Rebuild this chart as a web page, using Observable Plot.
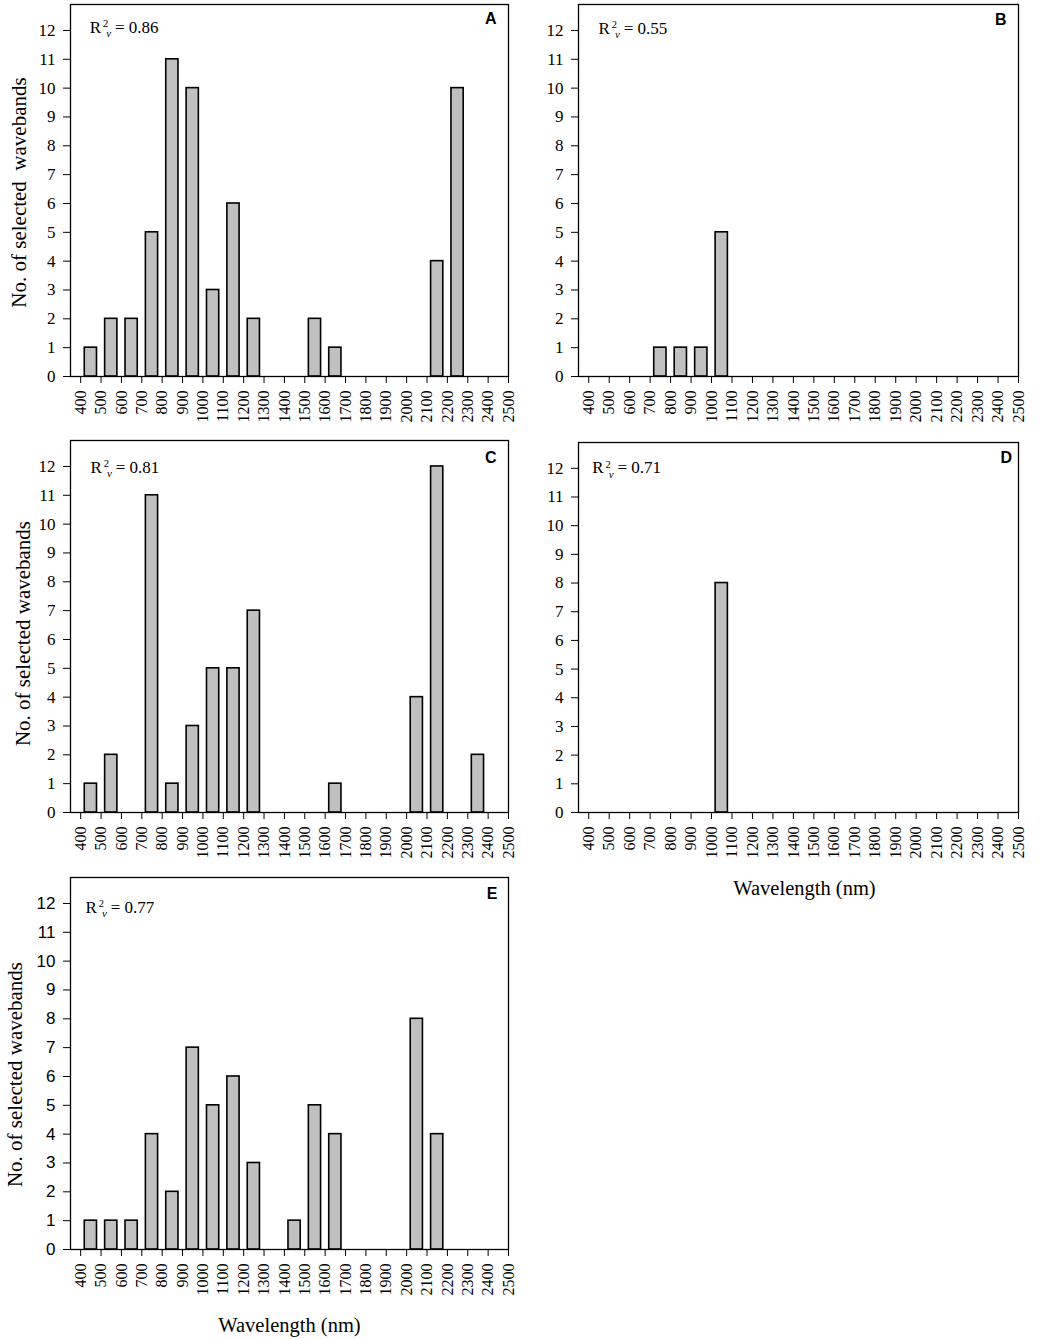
<!DOCTYPE html>
<html>
<head>
<meta charset="utf-8">
<script src="https://cdn.jsdelivr.net/npm/d3@7"></script>
<script src="https://cdn.jsdelivr.net/npm/@observablehq/plot@0.6"></script>
<style>
  body { margin: 0; background: #fff; }
  #wrap { position: relative; width: 1058px; height: 1339px; background: #fff; }
  #wrap svg { position: absolute; }
</style>
</head>
<body>
<div id="wrap"></div>
<script>
// ---- data ----
const binStarts = [400,500,600,700,800,900,1000,1100,1200,1300,1400,1500,1600,1700,1800,1900,2000,2100,2200,2300,2400];
const xTickValues = [400,500,600,700,800,900,1000,1100,1200,1300,1400,1500,1600,1700,1800,1900,2000,2100,2200,2300,2400,2500];
const yTickValues = [0,1,2,3,4,5,6,7,8,9,10,11,12];
const countsA = [1,2,2,5,11,10,3,6,2,0,0,2,1,0,0,0,0,4,10,0,0];
const countsB = [0,0,0,1,1,1,5,0,0,0,0,0,0,0,0,0,0,0,0,0,0];
const countsC = [1,2,0,11,1,3,5,5,7,0,0,0,1,0,0,0,4,12,0,2,0];
const countsD = [0,0,0,0,0,0,8,0,0,0,0,0,0,0,0,0,0,0,0,0,0];
const countsE = [1,1,1,4,2,7,5,6,3,0,1,5,4,0,0,0,8,4,0,0,0];
const panelLetters = ["A","B","C","D","E"];
const r2Values = ["0.86","0.55","0.81","0.71","0.77"];
const yTitleA = "No. of selected\u00a0 wavebands";
const yTitle = "No. of selected wavebands";
const xTitle = "Wavelength (nm)";

const SERIF = "Liberation Serif, Times New Roman, serif";
const SANS = "Liberation Sans, Arial, sans-serif";

// ---- layout (positions & styles) ----
const panels = [
  {counts: countsA, left: 0,   top: 0,   width: 530, height: 430, mt: 4,  mb: 54, ml: 70, mr: 22,
   yLabel: yTitleA, yDx: -51, yDy: 2, xLabel: false, yFont: SERIF, r2x: 19.3, r2y: 28.3, lDx: -12, lDy: 19.5},
  {counts: countsB, left: 530, top: 0,   width: 528, height: 430, mt: 4,  mb: 54, ml: 48, mr: 40,
   yLabel: null, xLabel: false, yFont: SERIF, r2x: 20, r2y: 29.3, lDx: -12, lDy: 20},
  {counts: countsC, left: 0,   top: 430, width: 530, height: 440, mt: 10, mb: 58, ml: 70, mr: 22,
   yLabel: yTitle, yDx: -47, yDy: 7, xLabel: false, yFont: SERIF, r2x: 20, r2y: 32, lDx: -12, lDy: 22},
  {counts: countsD, left: 530, top: 430, width: 528, height: 480, mt: 12, mb: 98, ml: 48, mr: 40,
   yLabel: null, xLabel: true, xDx: 6, xDy: 82, yFont: SERIF, r2x: 13.7, r2y: 30.7, lDx: -6.5, lDy: 20.5},
  {counts: countsE, left: 0,   top: 870, width: 530, height: 469, mt: 7,  mb: 90, ml: 70, mr: 22,
   yLabel: yTitle, yDx: -55, yDy: 11, xLabel: true, xDx: 0, xDy: 82, yFont: SANS, r2x: 15, r2y: 35.3, lDx: -11, lDy: 21.3}
];

const wrap = document.getElementById("wrap");

panels.forEach((p, i) => {
  const rows = binStarts.map((s, j) => ({start: s, count: p.counts[j]})).filter(d => d.count > 0);
  const marks = [
    Plot.rect(rows, {
      x1: d => d.start + 20, x2: d => d.start + 80,
      y1: 0, y2: "count",
      fill: "#c0c0c0", stroke: "black", strokeWidth: 1.6
    }),
    Plot.frame({stroke: "black", strokeWidth: 1.3}),
    Plot.axisX({ticks: xTickValues, tickFormat: "d", tickRotate: -90, tickSize: 7, tickPadding: 7,
      fontSize: 16, fontFamily: SERIF, label: null}),
    Plot.axisY({ticks: yTickValues, tickFormat: "d", tickSize: 7, tickPadding: 8,
      fontSize: 17, fontFamily: p.yFont, label: null}),
    // R^2_v annotation
    Plot.text(["R"], {text: d => d, frameAnchor: "top-left", textAnchor: "start", lineAnchor: "bottom",
      dx: p.r2x, dy: p.r2y, fontSize: 17, fontFamily: SERIF, fill: "black"}),
    Plot.text(["2"], {text: d => d, frameAnchor: "top-left", textAnchor: "start", lineAnchor: "bottom",
      dx: p.r2x + 13.2, dy: p.r2y - 5.6, fontSize: 10.5, fontFamily: SERIF, fill: "black"}),
    Plot.text(["v"], {text: d => d, frameAnchor: "top-left", textAnchor: "start", lineAnchor: "bottom",
      dx: p.r2x + 16.5, dy: p.r2y + 4.4, fontSize: 11, fontStyle: "italic", fontFamily: SERIF, fill: "black"}),
    Plot.text(["= " + r2Values[i]], {text: d => d, frameAnchor: "top-left", textAnchor: "start", lineAnchor: "bottom",
      dx: p.r2x + 25.2, dy: p.r2y, fontSize: 17, fontFamily: SERIF, fill: "black"}),
    // panel letter
    Plot.text([panelLetters[i]], {text: d => d, frameAnchor: "top-right", textAnchor: "end", lineAnchor: "bottom",
      dx: p.lDx, dy: p.lDy, fontSize: 16, fontWeight: "bold", fontFamily: SANS, fill: "black"})
  ];
  if (p.yLabel) {
    marks.push(Plot.text([p.yLabel], {text: d => d, frameAnchor: "left", rotate: -90,
      textAnchor: "middle", lineAnchor: "middle", dx: p.yDx, dy: p.yDy,
      fontSize: 21, fontFamily: SERIF, fill: "black"}));
  }
  if (p.xLabel) {
    marks.push(Plot.text([xTitle], {text: d => d, frameAnchor: "bottom", textAnchor: "middle", lineAnchor: "bottom",
      dx: p.xDx, dy: p.xDy, fontSize: 20.5, fontFamily: SERIF, fill: "black"}));
  }
  const svg = Plot.plot({
    width: p.width, height: p.height,
    marginTop: p.mt, marginBottom: p.mb, marginLeft: p.ml, marginRight: p.mr,
    x: {type: "linear", domain: [350, 2500]},
    y: {type: "linear", domain: [0, 12.9]},
    style: {background: "transparent", color: "black", fontFamily: SERIF, overflow: "visible"},
    marks
  });
  svg.style.left = p.left + "px";
  svg.style.top = p.top + "px";
  svg.style.maxWidth = "none";
  wrap.appendChild(svg);
});
</script>
</body>
</html>
